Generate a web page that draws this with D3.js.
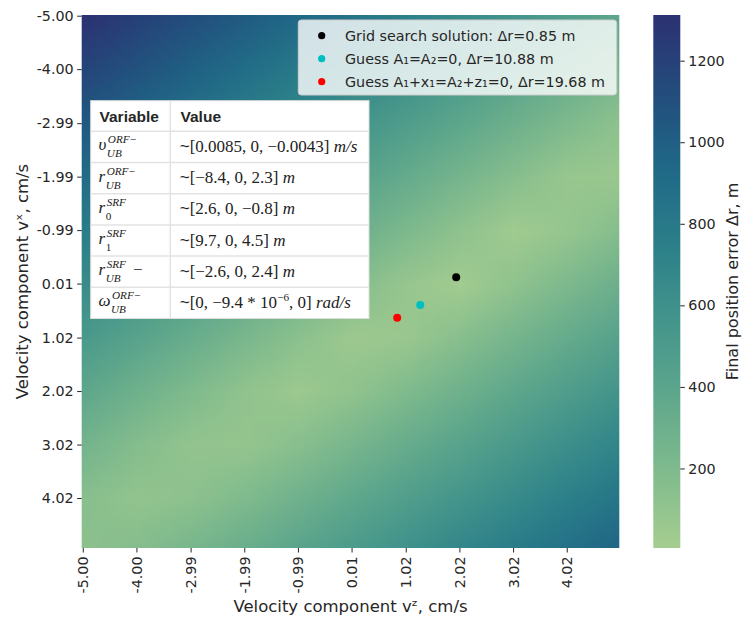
<!DOCTYPE html>
<html lang="en">
<head>
<meta charset="UTF-8">
<title>Final position error map</title>
<script src="https://d3js.org/d3.v7.min.js"></script>
<style>
  body { margin: 0; background: #fff; }
  svg text { font-family: "DejaVu Sans", sans-serif; fill: #262626; }
  .tick line { stroke: #262626; }
  .tick text { font-size: 14.3px; }
  .tbl-head { font-family: "Liberation Sans", Arial, sans-serif; font-weight: bold; font-size: 15.5px; }
  svg text.math { font-family: "Liberation Serif", serif; fill: #222; }
</style>
</head>
<body>
<script>
var width = 743, height = 621;

// final position error (m) at whole cm/s steps, rows = vx, cols = vz
var gridVz = [-5, -4, -3, -2, -1, 0, 1, 2, 3, 4, 5];
var gridVx = [-5, -4, -3, -2, -1, 0, 1, 2, 3, 4, 5];
var errGrid = [
  [1303, 1209, 1115, 1022, 928, 835, 742, 649, 557, 466, 375],
  [1170, 1076, 982, 888, 795, 702, 608, 516, 424, 332, 244],
  [1037, 943, 849, 755, 661, 568, 475, 382, 290, 200, 117],
  [904, 810, 716, 622, 528, 435, 341, 248, 157, 72, 60],
  [771, 677, 583, 489, 395, 301, 208, 115, 28, 79, 171],
  [640, 546, 451, 357, 263, 169, 75, 19, 113, 207, 301],
  [509, 415, 321, 227, 134, 46, 63, 153, 246, 340, 434],
  [380, 287, 195, 107, 51, 107, 195, 287, 380, 473, 567],
  [256, 169, 94, 84, 152, 238, 328, 421, 513, 607, 700],
  [151, 102, 125, 196, 281, 371, 462, 554, 647, 740, 833],
  [125, 167, 241, 325, 413, 504, 596, 688, 781, 874, 967]
];
var errMin = 5, errMax = 1312;

var xTicks = [-5.00, -4.00, -2.99, -1.99, -0.99, 0.01, 1.02, 2.02, 3.02, 4.02];
var yTicks = [-5.00, -4.00, -2.99, -1.99, -0.99, 0.01, 1.02, 2.02, 3.02, 4.02];
var cbarTicks = [200, 400, 600, 800, 1000, 1200];

var pointVz = [1.96, 1.29, 0.86];
var pointVx = [-0.11, 0.41, 0.65];
var pointLabels = [
  "Grid search solution: \u0394r=0.85 m",
  "Guess A\u2081=A\u2082=0, \u0394r=10.88 m",
  "Guess A\u2081+x\u2081=A\u2082+z\u2081=0, \u0394r=19.68 m"
];
var pointColors = ["#000000", "#00bfbf", "#ff0000"];

var tableBase = ["\u03c5", "r", "r", "r", "r", "\u03c9"];
var tableSup = ["ORF\u2212", "ORF\u2212", "SRF", "SRF", "SRF", "ORF\u2212"];
var tableSub = ["UB", "UB", "0", "1", "UB", "UB"];
var tableTail = ["", "", "", "", "\u2212", ""];
var tableValues = [
  "[0.0085, 0, \u22120.0043]",
  "[\u22128.4, 0, 2.3]",
  "[2.6, 0, \u22120.8]",
  "[9.7, 0, 4.5]",
  "[\u22122.6, 0, 2.4]",
  "[0, \u22129.4 * 10^{\u22126}, 0]"
];
var tableUnits = ["m/s", "m", "m", "m", "m", "rad/s"];

// seaborn "crest" approximation
var crestColors = ["#a5cd90", "#80bb8d", "#5ea78c", "#42948b", "#2b7f89", "#1f6887", "#234c7c", "#2c3172"];

var svg = d3.select("body").append("svg")
    .attr("width", width)
    .attr("height", height);

var x = d3.scaleLinear().domain([-5.02, 5.0]).range([81.7, 619.3]);
var y = d3.scaleLinear().domain([-5.013, 4.955]).range([15, 548]);
var color = d3.scaleSequential(d3.piecewise(d3.interpolateRgb, crestColors)).domain([errMin, errMax]);

// heatmap: one pixel per grid value, smoothed by the browser when scaled up
var canvas = document.createElement("canvas");
canvas.width = gridVz.length;
canvas.height = gridVx.length;
var ctx = canvas.getContext("2d");
errGrid.forEach(function(row, i) {
    row.forEach(function(v, j) {
        ctx.fillStyle = color(v);
        ctx.fillRect(j, i, 1, 1);
    });
});

svg.append("clipPath").attr("id", "plotclip")
  .append("rect")
    .attr("x", x.range()[0]).attr("y", y.range()[0])
    .attr("width", x.range()[1] - x.range()[0])
    .attr("height", y.range()[1] - y.range()[0]);

var half = (gridVz[1] - gridVz[0]) / 2;
svg.append("image")
    .attr("href", canvas.toDataURL())
    .attr("x", x(gridVz[0] - half))
    .attr("y", y(gridVx[0] - half))
    .attr("width", x(gridVz[gridVz.length - 1] + half) - x(gridVz[0] - half))
    .attr("height", y(gridVx[gridVx.length - 1] + half) - y(gridVx[0] - half))
    .attr("preserveAspectRatio", "none")
    .attr("clip-path", "url(#plotclip)");

// axes
var fmt = function(d) { return d.toFixed(2); };

var yAxis = svg.append("g")
    .attr("transform", "translate(" + x.range()[0] + ",0)")
    .call(d3.axisLeft(y).tickValues(yTicks).tickFormat(fmt).tickSize(4.5).tickPadding(3.5));
yAxis.select(".domain").remove();

var xAxis = svg.append("g")
    .attr("transform", "translate(0," + y.range()[1] + ")")
    .call(d3.axisBottom(x).tickValues(xTicks).tickFormat(fmt).tickSize(4.5).tickPadding(3.5));
xAxis.select(".domain").remove();
xAxis.selectAll("text")
    .attr("transform", "rotate(-90)")
    .attr("x", -8.5)
    .attr("y", 0)
    .attr("dy", "0.35em")
    .style("text-anchor", "end");

svg.append("text")
    .attr("x", (x.range()[0] + x.range()[1]) / 2)
    .attr("y", 612)
    .attr("text-anchor", "middle")
    .style("font-size", "16.5px")
    .text("Velocity component v\u1dbb, cm/s");

svg.append("text")
    .attr("transform", "translate(22," + (y.range()[0] + y.range()[1]) / 2 + ") rotate(-90)")
    .attr("text-anchor", "middle")
    .attr("dy", "0.35em")
    .style("font-size", "16.5px")
    .text("Velocity component v\u02e3, cm/s");

// colorbar
var cbX = 653.3, cbW = 27;
var c = d3.scaleLinear().domain([errMin, errMax]).range([548, 15]);
var grad = svg.append("defs").append("linearGradient")
    .attr("id", "cbar")
    .attr("x1", 0).attr("y1", 1).attr("x2", 0).attr("y2", 0);
d3.range(0, 1.0001, 0.05).forEach(function(t) {
    grad.append("stop")
        .attr("offset", t)
        .attr("stop-color", color(errMin + t * (errMax - errMin)));
});
svg.append("rect")
    .attr("x", cbX).attr("y", c(errMax))
    .attr("width", cbW).attr("height", c(errMin) - c(errMax))
    .attr("fill", "url(#cbar)");

var cAxis = svg.append("g")
    .attr("transform", "translate(" + (cbX + cbW) + ",0)")
    .call(d3.axisRight(c).tickValues(cbarTicks).tickFormat(d3.format("d")).tickSize(4.5).tickPadding(3.5));
cAxis.select(".domain").remove();

svg.append("text")
    .attr("transform", "translate(732.5," + (c(errMin) + c(errMax)) / 2 + ") rotate(-90)")
    .attr("text-anchor", "middle")
    .attr("dy", "0.35em")
    .style("font-size", "16px")
    .text("Final position error \u0394r, m");

// solution points
svg.append("g").selectAll("circle")
    .data(pointVz)
    .enter()
    .append("circle")
    .attr("cx", function(d) { return x(d); })
    .attr("cy", function(d, i) { return y(pointVx[i]); })
    .attr("r", 4)
    .attr("fill", function(d, i) { return pointColors[i]; });

// legend
var legend = svg.append("g");
legend.append("rect")
    .attr("x", 298.3).attr("y", 20)
    .attr("width", 318.4).attr("height", 75)
    .attr("rx", 3)
    .attr("fill", "#ffffff").attr("fill-opacity", 0.8)
    .attr("stroke", "#cccccc").attr("stroke-width", 1);
pointLabels.forEach(function(label, i) {
    var ly = 35.7 + i * 23;
    legend.append("circle")
        .attr("cx", 321.7).attr("cy", ly).attr("r", 3.6)
        .attr("fill", pointColors[i]);
    legend.append("text")
        .attr("x", 345).attr("y", ly)
        .attr("dy", "0.36em")
        .style("font-size", "14.3px")
        .text(label);
});

// table of variables
var tX0 = 90.7, tX1 = 369, tColX = 170.3, tTop = 100.7, headH = 30.6, rowH = 31.2;
var tBottom = tTop + headH + rowH * tableBase.length;
var table = svg.append("g");
table.append("rect")
    .attr("x", tX0).attr("y", tTop)
    .attr("width", tX1 - tX0).attr("height", tBottom - tTop)
    .attr("fill", "#ffffff")
    .attr("stroke", "#dddddd");
d3.range(tableBase.length).forEach(function(i) {
    var ly = tTop + headH + i * rowH;
    table.append("line")
        .attr("x1", tX0).attr("x2", tX1).attr("y1", ly).attr("y2", ly)
        .attr("stroke", "#e3e3e3").attr("stroke-width", 1.5);
});
table.append("line")
    .attr("x1", tColX).attr("x2", tColX).attr("y1", tTop).attr("y2", tBottom)
    .attr("stroke", "#e3e3e3").attr("stroke-width", 1.5);

table.append("text").attr("class", "tbl-head")
    .attr("x", 99.5).attr("y", tTop + headH / 2).attr("dy", "0.36em").text("Variable");
table.append("text").attr("class", "tbl-head")
    .attr("x", 180.5).attr("y", tTop + headH / 2).attr("dy", "0.36em").text("Value");

tableBase.forEach(function(base, i) {
    var cy = tTop + headH + i * rowH + rowH / 2;
    var bx = 98.5;
    var main = table.append("text").attr("class", "math")
        .attr("x", bx).attr("y", cy + 3.5)
        .style("font-size", "17px").style("font-style", "italic")
        .text(base);
    var w = main.node().getComputedTextLength();
    var digitSub = /^[0-9]+$/.test(tableSub[i]);
    var sup = table.append("text").attr("class", "math")
        .attr("x", bx + w + 1.5).attr("y", cy - 3.5)
        .style("font-size", "11.2px").style("font-style", "italic")
        .text(tableSup[i]);
    var sub = table.append("text").attr("class", "math")
        .attr("x", bx + w + 0.5).attr("y", cy + 10.5)
        .style("font-size", "11.2px").style("font-style", digitSub ? "normal" : "italic")
        .text(tableSub[i]);
    if (tableTail[i]) {
        var end = Math.max(bx + w + 1.5 + sup.node().getComputedTextLength(),
                           bx + w + 0.5 + sub.node().getComputedTextLength());
        table.append("text").attr("class", "math")
            .attr("x", end + 7).attr("y", cy + 3.5)
            .style("font-size", "17px")
            .text(tableTail[i]);
    }

    var val = table.append("text").attr("class", "math")
        .attr("x", 179.7).attr("y", cy + 5)
        .style("font-size", "17px");
    val.append("tspan")
        .style("font-family", "'Liberation Sans', sans-serif")
        .text("~");
    var parts = tableValues[i].split(/\^\{(.*?)\}/);
    parts.forEach(function(p, k) {
        if (k % 2 === 1) {
            val.append("tspan").attr("dy", -6.5).style("font-size", "11.2px").text(p);
        } else {
            val.append("tspan").attr("dy", k > 0 ? 6.5 : 0).text(p);
        }
    });
    val.append("tspan").text(" ");
    val.append("tspan").style("font-style", "italic").text(tableUnits[i]);
});
</script>
</body>
</html>
